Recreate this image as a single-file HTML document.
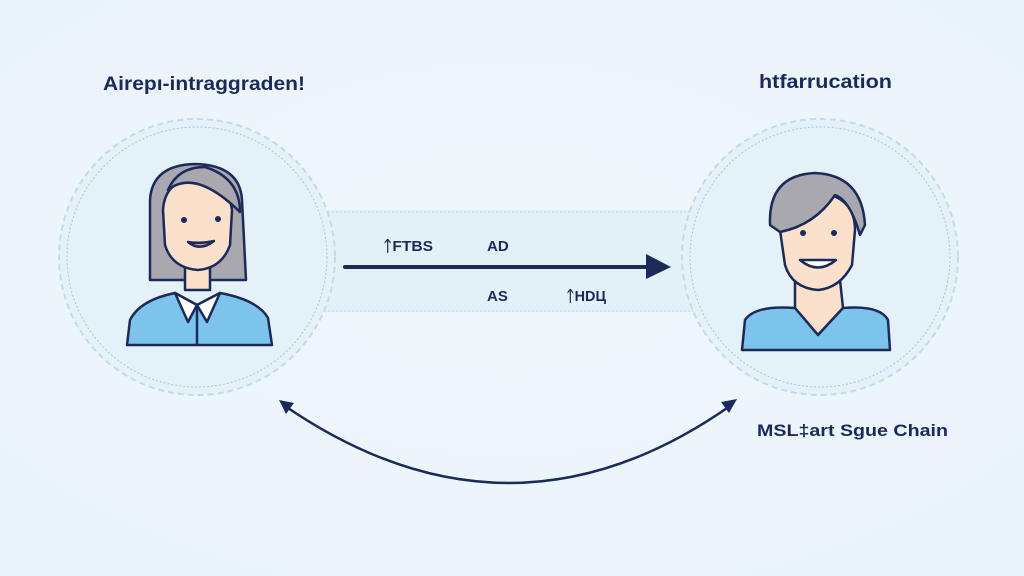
<!DOCTYPE html>
<html><head><meta charset="utf-8"><style>
html,body{margin:0;padding:0;width:1024px;height:576px;overflow:hidden;background:#eef6fb}
svg{display:block}
text{font-family:"Liberation Sans","DejaVu Sans",sans-serif;fill:#1c2a5a}
</style></head><body>
<svg width="1024" height="576" viewBox="0 0 1024 576">
<defs>
<radialGradient id="bg" cx="50%" cy="45%" r="70%"><stop offset="0" stop-color="#f1f8fc"/><stop offset="1" stop-color="#e8f3f9"/></radialGradient>
</defs>
<rect width="1024" height="576" fill="url(#bg)"/>
<rect x="300" y="210" width="420" height="102" fill="#e2f0f8"/>
<line x1="320" y1="212" x2="695" y2="212" stroke="#b8d2e2" stroke-dasharray="2 2"/>
<line x1="320" y1="311" x2="700" y2="311" stroke="#b8d2e2" stroke-dasharray="2 2"/>
<circle cx="197" cy="257" r="138" fill="#e4f1f9" stroke="#c4dae8" stroke-width="2" stroke-dasharray="6 4"/>
<circle cx="197" cy="257" r="130" fill="#e4f1f9" stroke="#a9c6d8" stroke-width="1" stroke-dasharray="2 2"/>
<circle cx="820" cy="257" r="138" fill="#e4f1f9" stroke="#c4dae8" stroke-width="2" stroke-dasharray="6 4"/>
<circle cx="820" cy="257" r="130" fill="#e4f1f9" stroke="#a9c6d8" stroke-width="1" stroke-dasharray="2 2"/>
<!-- left person -->
<g stroke="#1c2a5a" stroke-width="2.5" stroke-linejoin="round">
<path d="M150 280 L150 200 Q152 165 195 164 Q240 165 242 200 L246 280 Z" fill="#a8a8ae"/>
<path d="M185 262 L185 290 L210 290 L210 262 Z" fill="#fbe1cc"/>
<path d="M163 210 Q165 180 196 178 Q228 180 232 210 L230 245 Q222 268 198 270 Q172 268 165 245 Z" fill="#fbe1cc"/>
<path d="M168 190 Q195 168 240 212 Q240 178 205 167 Q178 167 168 190Z" fill="#a8a8ae"/>
<path d="M127 345 L130 320 Q140 300 175 293 L197 305 L220 293 Q258 300 268 318 L272 345 Z" fill="#7cc4ec"/>
<path d="M175 293 L188 322 L197 305 L207 322 L220 293 L197 305 Z" fill="#fff"/>
<line x1="197" y1="305" x2="197" y2="345"/>
<path d="M188 242 Q200 252 214 241 Q200 244 188 242Z" fill="#e88a9a"/>
</g>
<circle cx="184" cy="220" r="3" fill="#1c2a5a"/><circle cx="218" cy="219" r="3" fill="#1c2a5a"/>
<!-- right person -->
<g stroke="#1c2a5a" stroke-width="2.5" stroke-linejoin="round">
<path d="M795 280 L795 308 L818 335 L843 308 L840 280 Z" fill="#fbe1cc"/>
<path d="M780 230 Q778 195 815 192 Q855 195 855 230 L852 265 Q840 288 818 290 Q792 288 785 265 Z" fill="#fbe1cc"/>
<path d="M770 225 Q768 175 815 173 Q862 175 865 225 L860 235 Q850 200 835 195 Q815 225 780 232 Z" fill="#a8a8ae"/>
<path d="M742 350 L745 320 Q755 305 795 308 L818 335 L843 308 Q880 305 888 320 L890 350 Z" fill="#7cc4ec"/>
<path d="M800 260 Q818 275 836 260 Z" fill="#fff"/>
</g>
<circle cx="803" cy="233" r="3" fill="#1c2a5a"/><circle cx="834" cy="233" r="3" fill="#1c2a5a"/>
<!-- labels -->
<text x="103" y="90" font-size="19" font-weight="bold" textLength="202" lengthAdjust="spacingAndGlyphs">Airepı-intraggraden!</text>
<text x="759" y="88" font-size="19" font-weight="bold" textLength="133" lengthAdjust="spacingAndGlyphs">htfarrucation</text>
<text x="383" y="251" font-size="15" font-weight="bold" textLength="50" lengthAdjust="spacingAndGlyphs">ᛏFTBS</text>
<text x="487" y="251" font-size="15" font-weight="bold">AD</text>
<text x="487" y="301" font-size="15" font-weight="bold">AS</text>
<text x="566" y="301" font-size="15" font-weight="bold" textLength="40" lengthAdjust="spacingAndGlyphs">ᛏHDЦ</text>
<text x="757" y="436" font-size="17" font-weight="bold" textLength="191" lengthAdjust="spacingAndGlyphs">MSL‡art Sgue Chain</text>
<line x1="345" y1="267" x2="650" y2="267" stroke="#1c2a5a" stroke-width="4" stroke-linecap="round"/>
<path d="M646 254 L671 267 L646 279 Z" fill="#1c2a5a"/>
<path d="M285 406 Q510 560 730 406" fill="none" stroke="#1c2a5a" stroke-width="2.5"/>
<path d="M279 400 L294 403 L286 414 Z" fill="#1c2a5a"/>
<path d="M737 399 L729 413 L721 402 Z" fill="#1c2a5a"/>
</svg>
</body></html>
